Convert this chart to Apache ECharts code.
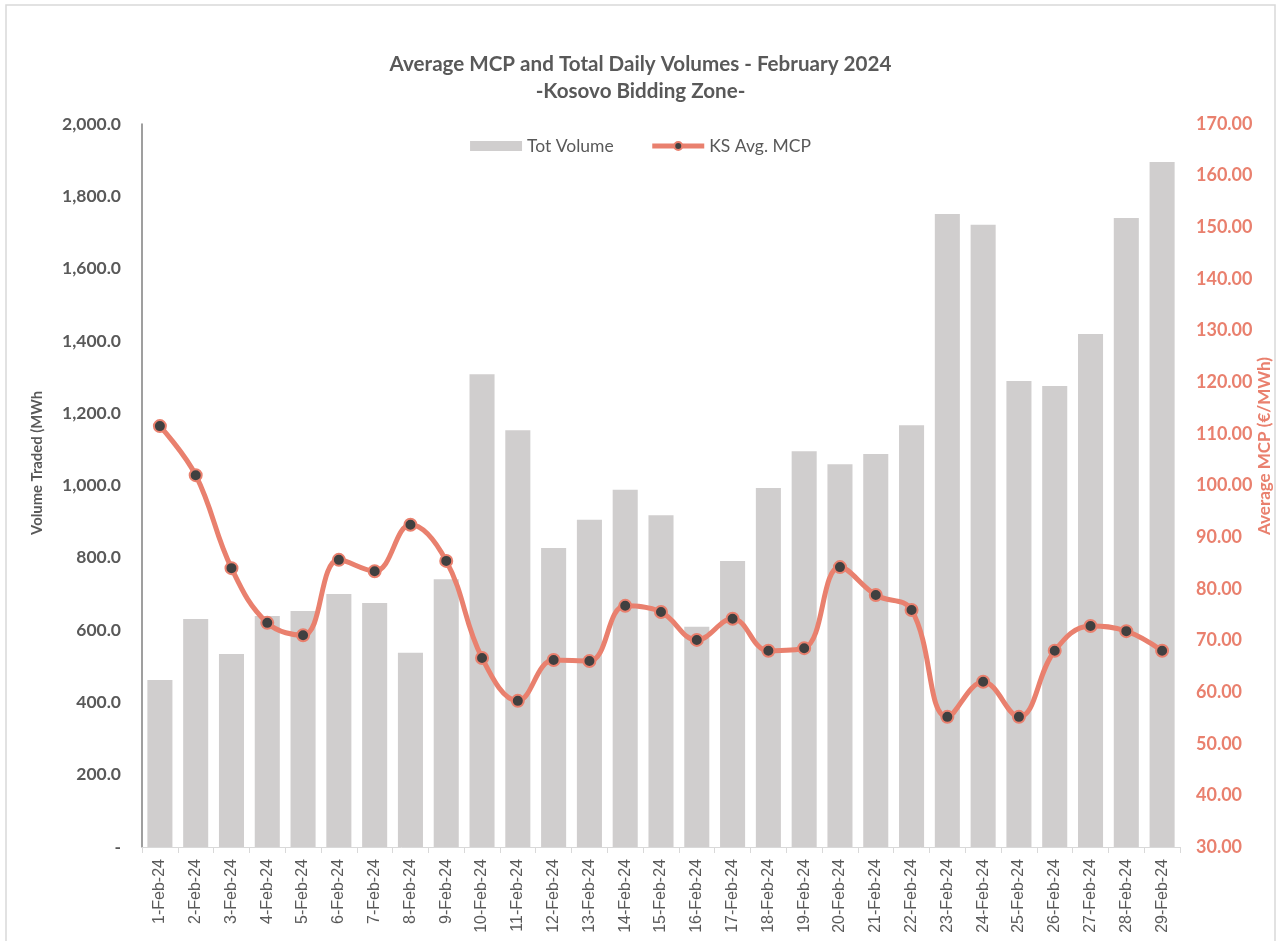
<!DOCTYPE html>
<html><head><meta charset="utf-8">
<script src="https://cdn.jsdelivr.net/npm/echarts@6/dist/echarts.min.js"></script>
<style>html,body{margin:0;padding:0;background:#fff}#c{width:1281px;height:941px}</style>
</head><body><div id="c"></div>
<script>
const categories = ['1-Feb-24','2-Feb-24','3-Feb-24','4-Feb-24','5-Feb-24','6-Feb-24','7-Feb-24','8-Feb-24','9-Feb-24','10-Feb-24','11-Feb-24','12-Feb-24','13-Feb-24','14-Feb-24','15-Feb-24','16-Feb-24','17-Feb-24','18-Feb-24','19-Feb-24','20-Feb-24','21-Feb-24','22-Feb-24','23-Feb-24','24-Feb-24','25-Feb-24','26-Feb-24','27-Feb-24','28-Feb-24','29-Feb-24'];
const totVolume = [462,631,534,639,653,700,675,537,741,1308,1153,827,905,988,918,609,791,993,1095,1059,1087,1167,1751,1721,1289,1275,1419,1740,1895];
const avgMCP = [111.5,102.0,84.0,73.4,71.0,85.6,83.4,92.4,85.4,66.6,58.3,66.2,66.0,76.7,75.5,70.1,74.2,68.0,68.5,84.2,78.8,75.9,55.2,62.0,55.2,68.0,72.8,71.8,68.0];
const titleLines = ['Average MCP and Total Daily Volumes - February 2024','-Kosovo Bidding Zone-'];
const leftAxisName = 'Volume Traded (MWh';
const rightAxisName = 'Average MCP (€/MWh)';

const chart = echarts.init(document.getElementById('c'));
const gray = '#595959', salmon = '#E9806E';
chart.setOption({
  animation:false,
  backgroundColor:'#fff',
  title:{text:titleLines.join('\n'),left:'center',top:46,
    textStyle:{fontFamily:'Lato',fontSize:20.6,fontWeight:'bold',color:gray,lineHeight:27}},
  legend:{top:132,left:'center',itemGap:36,itemWidth:52,itemHeight:10,
    textStyle:{fontFamily:'Lato',fontSize:17.5,color:gray},
    data:[{name:'Tot Volume',icon:'rect'},{name:'KS Avg. MCP',lineStyle:{width:5}}]},
  grid:{left:142,right:101,top:124,bottom:94},
  xAxis:{type:'category',data:categories,
    axisLine:{lineStyle:{color:'#D9D9D9'}},
    axisTick:{show:true,lineStyle:{color:'#D9D9D9'},length:6},
    axisLabel:{rotate:90,interval:0,fontFamily:'Liberation Sans',fontSize:16,color:gray,margin:12}},
  yAxis:[
    {type:'value',min:0,max:2000,interval:200,splitLine:{show:false},
     axisLine:{show:true,lineStyle:{color:'#7F7F7F',width:1.5}},axisTick:{show:false},
     axisLabel:{fontFamily:'Lato',fontSize:17.5,fontWeight:'bold',color:gray,margin:21,
       formatter:v=>v===0?'-':v.toLocaleString('en-US',{minimumFractionDigits:1,maximumFractionDigits:1})}},
    {type:'value',min:30,max:170,interval:10,splitLine:{show:false},
     axisLine:{show:false},axisTick:{show:false},
     axisLabel:{fontFamily:'Lato',fontSize:18,fontWeight:'bold',color:salmon,margin:16,
       formatter:v=>v.toFixed(2)}}
  ],
  graphic:[
    {type:'text',x:37,y:463,rotation:Math.PI/2,style:{text:leftAxisName,fill:gray,font:'bold 14.8px Lato',align:'center',verticalAlign:'middle'}},
    {type:'text',x:1265,y:446,rotation:Math.PI/2,style:{text:rightAxisName,fill:salmon,font:'bold 17px Lato',align:'center',verticalAlign:'middle'}},
    {type:'rect',shape:{x:6,y:5,width:1269,height:960},style:{fill:'none',stroke:'#D9D9D9',lineWidth:1.5},z:-1}
  ],
  series:[
    {name:'Tot Volume',type:'bar',data:totVolume,barCategoryGap:'30%',
     itemStyle:{color:'#D0CECE'}},
    {name:'KS Avg. MCP',type:'line',yAxisIndex:1,data:avgMCP,smooth:0.4,
     symbol:'circle',symbolSize:12,
     lineStyle:{color:salmon,width:5},
     itemStyle:{color:'#404040',borderColor:salmon,borderWidth:2}}
  ]
});
</script>
</body></html>
